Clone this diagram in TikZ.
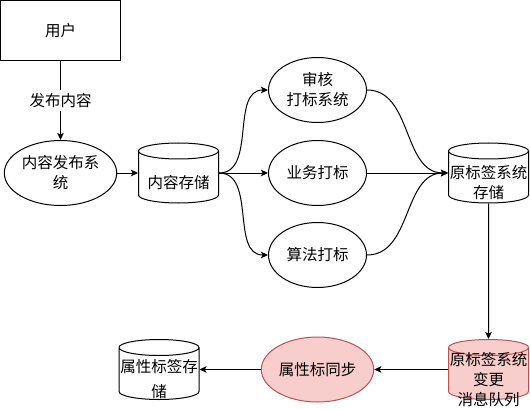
\documentclass[tikz,border=0pt]{standalone}
\usepackage{fontspec}
\setmainfont{Noto Sans CJK SC}
\usetikzlibrary{shapes.geometric,arrows.meta}
\definecolor{alertfill}{HTML}{F8CECC}
\definecolor{alertline}{HTML}{B85450}

\begin{document}
\begin{tikzpicture}[node distance=100pt, line width=1pt, >={Stealth[length=7pt,width=6.5pt,inset=1.5pt]},
	every node/.style={font=\fontsize{15.5}{20}\selectfont, align=center},
	box node/.style={rectangle,draw,minimum width=120pt,minimum height=60pt},
	main node/.style={ellipse,draw,minimum width=98pt,minimum height=65pt,inner sep=1pt},
	store node/.style={cylinder,draw,shape border rotate=90,aspect=0.2,text width=78pt,
		minimum width=80pt,minimum height=60pt,inner sep=1pt,
		label={[yshift=-4.5pt]center:#1}},
	alert node/.style={fill=alertfill,draw=alertline}]
	
	\useasboundingbox (0,0) rectangle (530pt,-409pt);
	
	\node[box node] (user) at (60.5pt,-30.5pt) {用户};
	\node[main node] (pub) [below of=user, node distance=142.5pt] {内容发布系\\统};
	\node[store node={内容存储}] (store) [right of=pub, node distance=118pt, anchor=shape center] {};
	\node[main node] (biz) [right of=pub, node distance=257pt] {业务打标};
	\node[main node] (audit) [above of=biz, node distance=83pt] {审核\\打标系统};
	\node[main node] (algo) [below of=biz, node distance=82pt] {算法打标};
	\node[store node={原标签系统\\存储}] (tag) [right of=biz, node distance=171pt, anchor=shape center] {};
	\node[main node,alert node] (sync) [below of=algo, node distance=114.5pt] {属性标同步};
	\node[store node={原标签系统\\变更\\消息队列},alert node] (queue) [right of=sync, node distance=171pt, anchor=shape center] {};
	\node[store node={属性标签存\\[5pt]储},every label/.append style={yshift=-9pt}] (attr) [left of=sync, node distance=158.5pt, anchor=shape center] {};
	
	\path[->]
	(user) edge node[fill=white] {发布内容} (pub)
	(pub) edge (store.west |- pub)
	(store.east |- pub) edge[out=0,in=180] (audit.west)
	edge (biz.west)
	edge[out=0,in=180] (algo.west)
	(audit.east) edge[out=0,in=180] (tag.west |- biz)
	(biz.east) edge (tag.west |- biz)
	(algo.east) edge[out=0,in=180] (tag.west |- biz)
	(tag) edge (queue)
	(queue.west |- sync) edge (sync)
	(sync) edge (attr.east |- sync);
\end{tikzpicture}
\end{document}
